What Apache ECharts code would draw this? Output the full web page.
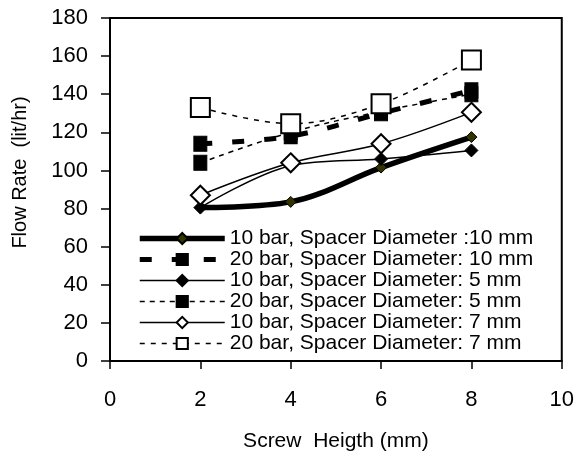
<!DOCTYPE html>
<html>
<head>
<meta charset="utf-8">
<script src="https://cdn.jsdelivr.net/npm/echarts@6/dist/echarts.min.js"></script>
<style>
  html, body { margin: 0; padding: 0; background: #fff; }
  #chart { width: 577px; height: 457px; }
</style>
</head>
<body>
<div id="chart"></div>
<script>
// screw height (mm)
const screwHeight = [2, 4, 6, 8];
// flow rate (lit/hr)
const bar10_d10 = [80.5, 83.5, 101.5, 117.5];
const bar20_d10 = [114, 118, 130, 142];
const bar10_d5 = [80.5, 102.5, 106, 110.5];
const bar20_d5 = [104, 120, 131, 140];
const bar10_d7 = [87, 104, 114, 130.5];
const bar20_d7 = [133, 124.5, 135, 158];

const names = [
  "10 bar, Spacer Diameter :10 mm",
  "20 bar, Spacer Diameter: 10 mm",
  "10 bar, Spacer Diameter: 5 mm",
  "20 bar, Spacer Diameter: 5 mm",
  "10 bar, Spacer Diameter: 7 mm",
  "20 bar, Spacer Diameter: 7 mm"
];

const font = "'Liberation Sans', Arial, sans-serif";

function pairs(ys) {
  return screwHeight.map((x, i) => [x, ys[i]]);
}

function makeSeries(name, ys, opts) {
  return {
    type: "line",
    name: name,
    data: pairs(ys),
    smooth: 0.35,
    symbol: opts.symbol,
    symbolSize: opts.size,
    showSymbol: true,
    lineStyle: { color: "#000", width: opts.width, type: opts.dash || "solid" },
    itemStyle: { color: opts.fill, borderColor: "#000", borderWidth: opts.border || 1 },
    emphasis: { disabled: true },
    animation: false
  };
}

const chart = echarts.init(document.getElementById("chart"));
chart.setOption({
  animation: false,
  textStyle: { fontFamily: font, color: "#000" },
  grid: {
    left: 110, right: 13, top: 18, bottom: 95,
    show: true, borderColor: "#000", borderWidth: 2
  },
  xAxis: {
    type: "value",
    min: 0, max: 10, interval: 2,
    name: "Screw  Heigth (mm)",
    nameLocation: "middle",
    nameGap: 70,
    nameTextStyle: { fontSize: 21, fontFamily: font, color: "#000" },
    axisLine: { lineStyle: { color: "#000", width: 2 } },
    axisTick: { inside: false, length: 8, lineStyle: { color: "#000", width: 1.5 } },
    axisLabel: { fontSize: 22, color: "#000", fontFamily: font, margin: 28 },
    splitLine: { show: false }
  },
  yAxis: {
    type: "value",
    min: 0, max: 180, interval: 20,
    name: "Flow Rate  (lit/hr)",
    nameLocation: "middle",
    nameGap: 80,
    nameTextStyle: { fontSize: 20, fontFamily: font, color: "#000", padding: [0, 0, 0, 34] },
    axisLine: { lineStyle: { color: "#000", width: 2 } },
    axisTick: { inside: false, length: 9, lineStyle: { color: "#000", width: 1.5 } },
    axisLabel: { fontSize: 22, color: "#000", fontFamily: font, margin: 22 },
    splitLine: { show: false }
  },
  legend: {
    orient: "vertical",
    left: 137,
    top: 228,
    padding: 0,
    itemWidth: 85,
    itemHeight: 14,
    itemGap: 0,
    itemTextGap: 2,
    lineStyle: { width: "inherit" },
    textStyle: { fontSize: 21, fontFamily: font, color: "#000", lineHeight: 20 },
    data: names,
    selectedMode: false
  },
  series: [
    makeSeries(names[0], bar10_d10, { symbol: "diamond", size: 11, width: 5.5, fill: "#333300" }),
    makeSeries(names[1], bar20_d10, { symbol: "rect", size: [13, 15], width: 5, dash: [12, 20], fill: "#000" }),
    makeSeries(names[2], bar10_d5, { symbol: "diamond", size: 13, width: 1.5, fill: "#000" }),
    makeSeries(names[3], bar20_d5, { symbol: "rect", size: [13, 15], width: 1.5, dash: [5, 5], fill: "#000" }),
    makeSeries(names[4], bar10_d7, { symbol: "diamond", size: 19, width: 1.5, fill: "#fff", border: 2 }),
    makeSeries(names[5], bar20_d7, { symbol: "rect", size: 19, width: 1.5, dash: [5, 6], fill: "#fff", border: 2 })
  ]
});
</script>
</body>
</html>
